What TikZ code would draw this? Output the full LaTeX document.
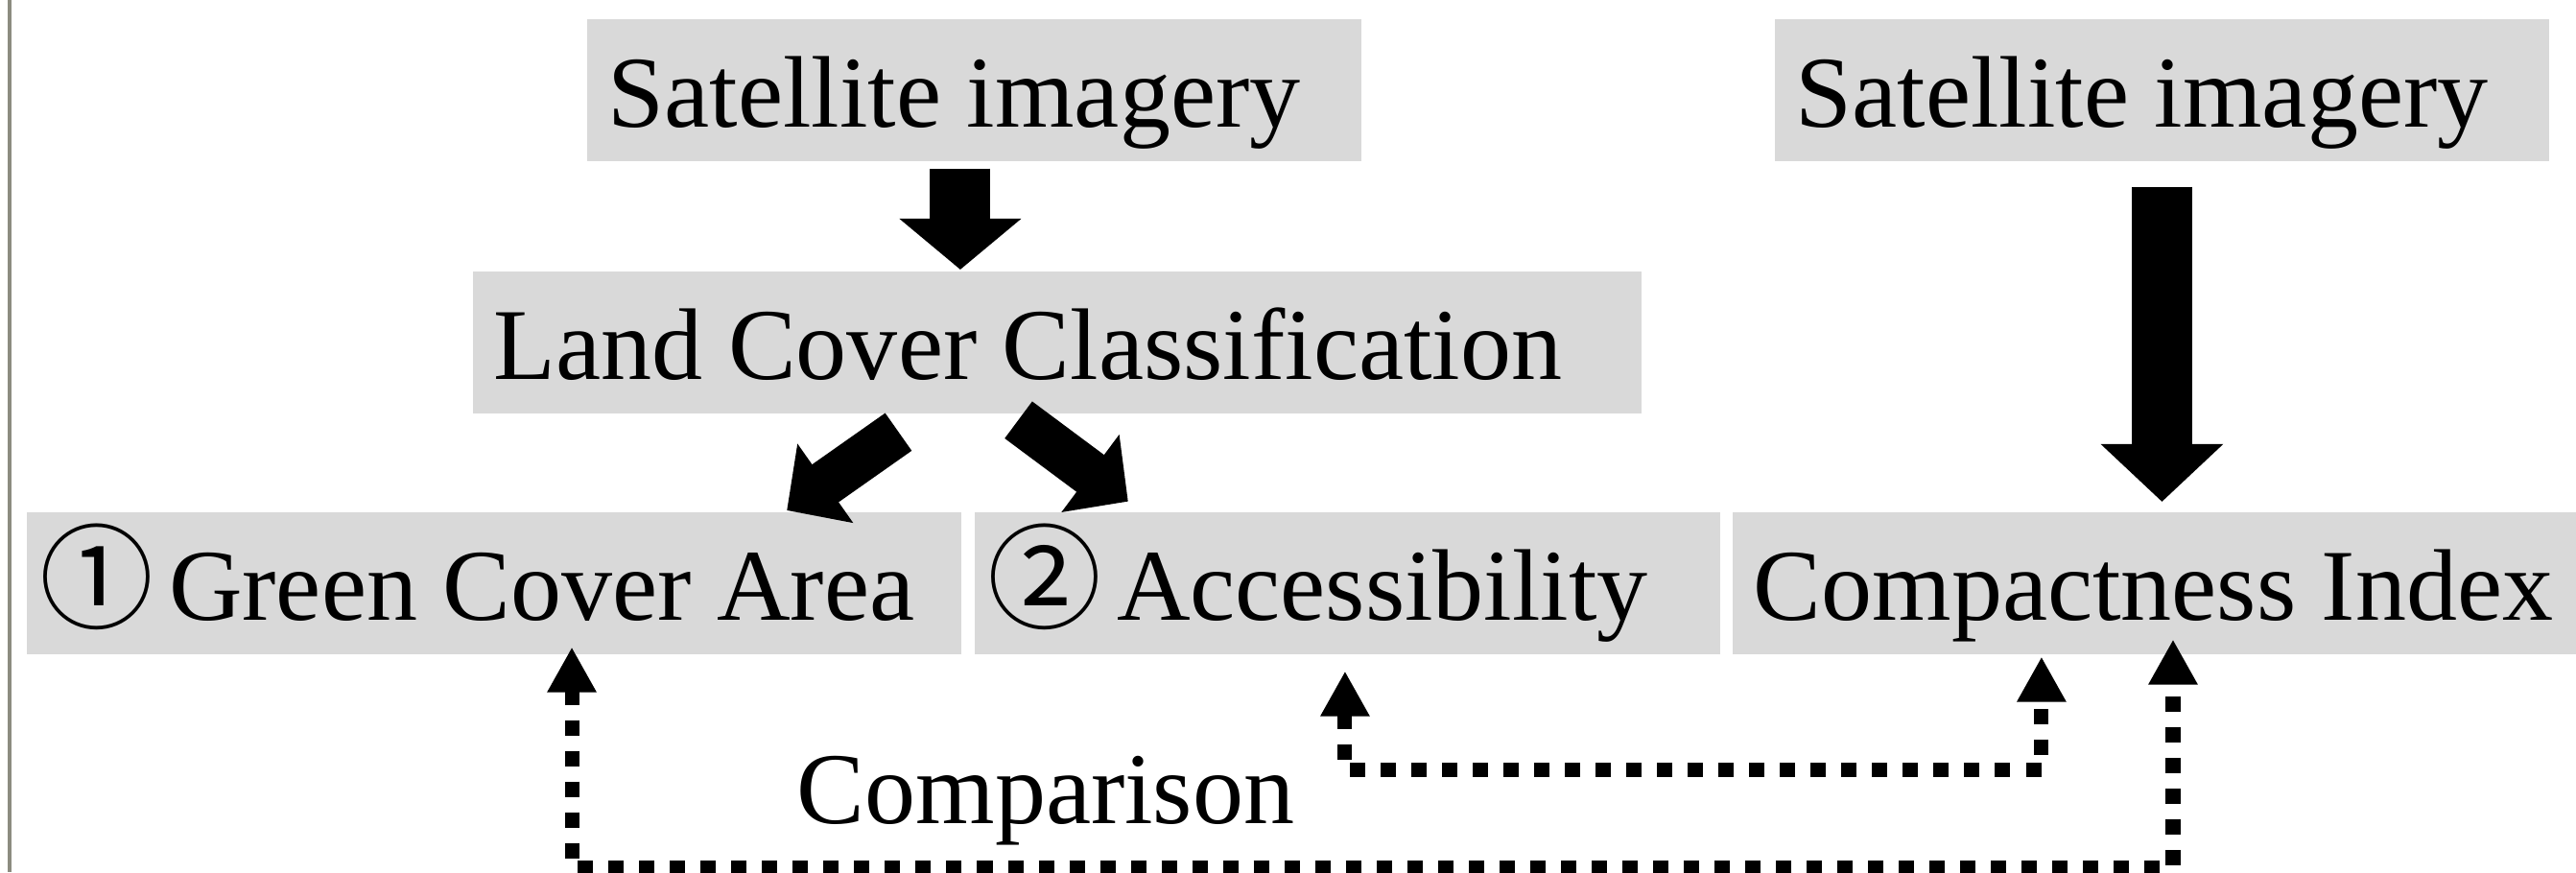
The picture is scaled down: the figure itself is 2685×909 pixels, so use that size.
\documentclass[tikz,border=0pt]{standalone}
\usepackage{fontspec}
\setmainfont{Liberation Serif}
\newfontfamily\cjk{Noto Sans CJK JP}
\usetikzlibrary{arrows.meta}
\definecolor{boxgray}{RGB}{217,217,217}
\definecolor{edgegray}{RGB}{140,140,128}
\newcommand{\circnum}[1]{{\cjk\fontsize{33.8pt}{36pt}\selectfont #1}}

\begin{document}
\begin{tikzpicture}[x = 0.01cm, y = -0.01cm,
    font = \fontsize{30.16pt}{36pt}\selectfont,
    box/.style = {fill = boxgray, anchor = north west, align = left, inner xsep = 0.22cm, inner ysep = 0pt, text height = 1.13cm, text depth = 0.35cm, execute at begin node = {\spaceskip = 0pt\relax}},
    fatarrow/.style = {line width = 0.63cm, -{Triangle[width = 1.24cm, length = #1]}},
    fatarrow/.default = 0.53cm,
    slantarrow/.style = {line width = 0.48cm, -{Triangle[width = 0.98cm, length = 0.49cm]}},
    dotarrow/.style = {line width = 0.15cm, dash pattern = on 0.16cm off 0.16cm, {Triangle[width = 0.48cm, length = 0.47cm]}-{Triangle[width = 0.48cm, length = 0.47cm]}}]

    \useasboundingbox (0,0) rectangle (2685,909);
    \draw [edgegray, line width = 0.03cm] (10,0) -- (10,909);

    \node [box, text width = 7.63cm] (sat1) at (611,19) {Satellite imagery};
    \node [box, text width = 7.63cm] (sat2) at (1849,19) {Satellite imagery};
    \node [box, text width = 11.74cm] (lcc) at (492,282) {Land Cover Classification};
    \node [box, text width = 9.30cm] (gca) at (27,533) {\hspace{-0.085cm}\circnum{①}\hspace{0.16cm}Green Cover Area};
    \node [box, text width = 7.33cm] (acc) at (1015,533) {\hspace{-0.085cm}\circnum{②}\hspace{0.16cm}Accessibility};
    \node [box, text width = 8.36cm] (ci) at (1805,533) {Compactness Index};
    \node [anchor = base west, inner sep = 0pt] (cmp) at (830,858) {Comparison};

    \draw [fatarrow] ([xshift = -0.145cm, yshift = -0.07cm]sat1.south) -- ([xshift = -0.145cm, yshift = 0.01cm]sat1.south |- lcc.north);
    \draw [fatarrow = 0.6cm] ([yshift = -0.26cm]sat2.south) -- ([yshift = 0.1cm]sat2.south |- ci.north);
    \draw [slantarrow] ([xshift = -1.655cm, yshift = -0.187cm]lcc.south) -- ([xshift = 3.05cm, yshift = 0.01cm]gca.north);
    \draw [slantarrow] ([xshift = -0.405cm, yshift = -0.062cm]lcc.south) -- ([xshift = -2.285cm, yshift = 0.103cm]acc.north);

    \draw [dotarrow] ([xshift = 0.81cm, yshift = 0.08cm]gca.south) -- ++(0,230) -| ([xshift = 0.19cm, yshift = 0.16cm]ci.south);
    \draw [dotarrow] ([xshift = -0.025cm, yshift = -0.17cm]acc.south) -- ++(0,103) -| ([xshift = -1.18cm, yshift = -0.02cm]ci.south);
\end{tikzpicture}
\end{document}
